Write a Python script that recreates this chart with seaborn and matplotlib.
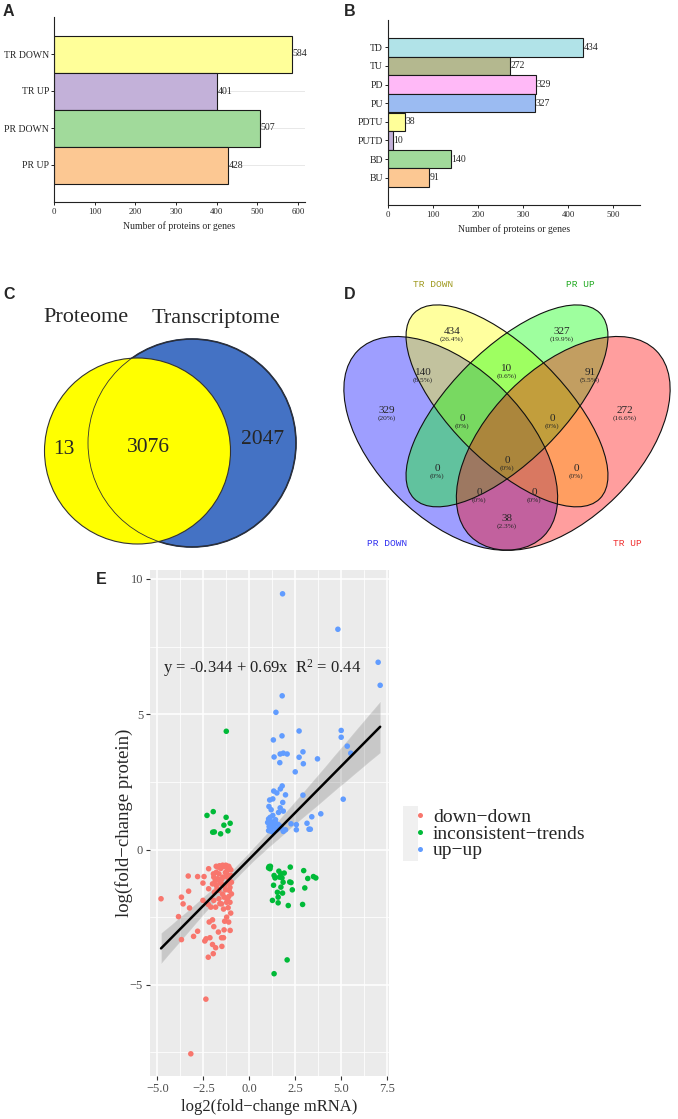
import pandas as pd
import matplotlib.pyplot as plt
from matplotlib.patches import Circle, Ellipse, Rectangle
import seaborn as sns

# ------------------------------------------------------------------
# datos de cada panel
# ------------------------------------------------------------------
# A - recuentos por grupo
a_labels = ["TR DOWN", "TR UP", "PR DOWN", "PR UP"]
a_values = [584, 401, 507, 428]
a_colors = ["#FFFF99", "#C3B1D9", "#A1DA9B", "#FCC893"]

# B - recuentos por combinacion
b_labels = ["TD", "TU", "PD", "PU", "PDTU", "PUTD", "BD", "BU"]
b_values = [434, 272, 329, 327, 38, 10, 140, 91]
b_colors = ["#B1E3E8", "#B4B88F", "#FFB9F7", "#9BBBF2", "#FFFF99", "#C3B1D9", "#A1DA9B", "#FCC893"]

# C - venn de 2 conjuntos (solo proteoma, ambos, solo transcriptoma)
c_sets = ["Proteome", "Transcriptome"]
c_counts = [13, 3076, 2047]

# D - venn de 4 conjuntos
d_sets = ["PR DOWN", "TR DOWN", "PR UP", "TR UP"]
d_set_colors = ["#0000FF", "#FFFF00", "#00FF00", "#FF0000"]
d_label_colors = ["#3030F0", "#A09A20", "#22AA22", "#F03030"]
d_counts = [329, 434, 327, 272, 140, 10, 91, 0, 0, 0, 0, 0, 0, 0, 38]
d_pcts = [20, 26.4, 19.9, 16.6, 8.5, 0.6, 5.5, 0, 0, 0, 0, 0, 0, 0, 2.3]

# E - dispersion mRNA vs proteina
trend_names = ["down\u2212down", "inconsistent\u2212trends", "up\u2212up"]
trend_colors = ["#F8766D", "#00BA38", "#619CFF"]

down_x = [-4.80, -3.85, -3.69, -3.60, -3.32, -3.30, -3.25, -3.69, -3.03, -2.81, -2.81, -2.36, -3.18,
          -2.21, -2.46, -2.52, -2.21, -2.52, -1.79, -1.65, -1.37, -1.20, -1.09, -1.93, -1.72, -1.44,
          -1.23, -1.01, -2.00, -1.79, -1.51, -1.16, -0.97, -1.90, -1.65, -1.29, -1.09, -1.93, -1.65,
          -1.37, -1.12, -0.97, -1.83, -1.51, -1.23, -2.09, -2.23, -1.01, -1.34, -1.23, -1.12, -2.18,
          -2.00, -1.93, -1.68, -1.37, -1.04, -2.35, -2.14, -1.51, -1.40, -2.00, -1.83, -1.49, -2.23,
          -1.96, -2.42,
          -1.55, -1.30, -1.10, -1.85, -1.60, -1.35, -1.05, -1.75, -1.45, -1.20, -1.05, -1.60, -1.40,
          -1.15, -1.70, -1.25, -1.00, -1.15, -1.50, -1.95, -1.80, -1.62, -1.45, -1.28, -1.12]
down_y = [-1.82, -2.48, -1.76, -2.01, -0.98, -1.54, -2.16, -3.33, -3.21, -3.02, -1.00, -5.53, -7.55,
          -0.71, -1.00, -1.24, -1.45, -1.88, -0.84, -0.90, -0.63, -0.78, -0.68, -1.02, -1.08, -1.02,
          -1.00, -0.96, -1.27, -1.33, -1.27, -1.24, -1.21, -1.58, -1.51, -1.49, -1.51, -1.88, -1.82,
          -1.76, -1.74, -1.64, -2.13, -2.01, -1.95, -2.13, -2.03, -2.35, -2.65, -2.50, -2.68, -2.68,
          -2.60, -2.85, -3.05, -2.97, -2.99, -3.30, -3.26, -3.26, -3.26, -3.51, -3.63, -3.58, -3.98,
          -3.85, -3.38,
          -0.70, -0.85, -1.10, -1.15, -1.20, -1.35, -1.40, -1.45, -1.65, -1.85, -1.95, -2.00, -2.20,
          -2.15, -0.65, -0.60, -0.75, -0.95, -1.10, -0.90, -0.62, -0.60, -0.58, -0.58, -0.62]

incons_x = [-1.25, -2.30, -1.96, -1.26, -1.04, -1.38, -1.99, -1.90, -1.56, -1.16,
            1.08, 1.13, 1.35, 1.61, 1.72, 1.90, 2.23, 1.64, 2.96, 3.18, 3.49, 3.62, 1.32, 1.84,
            2.27, 3.02, 1.72, 1.53, 1.81, 2.34, 1.26, 1.57, 1.57, 2.12, 2.90, 2.06, 1.35,
            1.05, 1.15, 1.78, 2.20, 1.40]
incons_y = [4.37, 1.26, 1.40, 1.19, 0.97, 0.90, 0.64, 0.65, 0.58, 0.69,
            -0.63, -0.71, -0.96, -0.80, -0.90, -0.87, -0.65, -1.02, -0.78, -1.07, -1.00, -1.05, -1.32, -1.21,
            -1.22, -1.42, -1.39, -1.58, -1.61, -1.49, -1.88, -1.76, -1.97, -2.07, -2.03, -4.08, -4.59,
            -0.68, -0.62, -1.05, -1.20, -1.05]

up_x = [1.81, 4.82, 7.01, 7.12, 1.79, 1.45, 1.78, 1.31, 2.71, 5.00, 5.00, 5.33, 5.52,
        1.35, 1.68, 1.85, 2.06, 1.66, 2.71, 2.92, 2.94, 3.71, 2.50, 1.79, 1.69, 1.33, 1.50, 1.97,
        2.92, 5.11, 1.28, 1.11, 1.82, 1.07, 1.19, 1.68, 1.85, 1.59, 3.89, 3.40, 1.14, 1.28, 1.05,
        1.43, 1.24, 1.45, 1.59, 2.27, 2.56, 3.14, 1.08, 1.28, 1.73, 2.56, 3.25, 3.32, 1.05, 1.19,
        1.49, 1.85, 1.97, 1.12, 1.35, 1.62, 1.30, 1.00]
up_y = [9.45, 8.14, 6.92, 6.07, 5.68, 5.07, 4.20, 4.05, 4.38, 4.40, 4.15, 3.82, 3.56,
        3.42, 3.53, 3.56, 3.53, 3.21, 3.41, 3.61, 3.17, 3.35, 2.87, 2.35, 2.24, 2.16, 2.09, 2.02,
        2.01, 1.86, 1.87, 1.83, 1.74, 1.59, 1.47, 1.54, 1.42, 1.37, 1.32, 1.21, 1.19, 1.26, 1.13,
        1.10, 1.02, 0.97, 0.92, 0.95, 0.92, 0.97, 0.85, 0.83, 0.85, 0.73, 0.75, 0.75, 0.70, 0.67,
        0.73, 0.67, 0.73, 0.95, 0.88, 0.78, 0.64, 1.00]

equation = "y = -0.344 + 0.69x  R$^{2}$ = 0.44"

# ------------------------------------------------------------------
# estilo general
# ------------------------------------------------------------------
sns.set_style("ticks")
plt.rcParams['font.family'] = ['Liberation Serif', 'DejaVu Serif']
plt.rcParams['mathtext.default'] = 'regular'

W, H = 678, 1119
fig = plt.figure(figsize=(W / 100, H / 100), dpi=100)


def px_axes(l, t, r, b):
    # ejes a partir de coordenadas en pixeles (izq, arriba, der, abajo)
    return fig.add_axes([l / W, 1 - b / H, (r - l) / W, (b - t) / H])


def panel_letter(x, y, s):
    fig.text(x / W, 1 - y / H, s, fontsize=11.5, fontweight='bold',
             family='Liberation Sans', va='top', ha='left')


def bar_panel(ax, labels, values, colors, xmax, ylim, grid):
    sns.barplot(x=values, y=labels, hue=labels, palette=dict(zip(labels, colors)),
                saturation=1, width=1.0, edgecolor='#1A1A1A', linewidth=0.8,
                legend=False, ax=ax)
    for cont in ax.containers:
        ax.bar_label(cont, fontsize=7, padding=0.3)
    ax.set_xlim(0, xmax)
    ax.set_ylim(*ylim)
    ax.set_xticks(range(0, int(xmax // 100) * 100 + 1, 100))
    ax.tick_params(axis='x', labelsize=6.3, length=2.5, width=0.7, pad=1.5, color='#222222')
    ax.tick_params(axis='y', labelsize=7, length=2, width=0.7, pad=1.5, color='#222222')
    for s in ['top', 'right']:
        ax.spines[s].set_visible(False)
    for s in ['left', 'bottom']:
        ax.spines[s].set_color('#222222')
        ax.spines[s].set_linewidth(0.8)
    if grid:
        ax.grid(axis='y', color='#E4E4E4', lw=0.6)
        ax.set_axisbelow(True)
    ax.set_ylabel('')
    ax.set_xlabel('Number of proteins or genes', fontsize=7)
    ax.xaxis.set_label_coords(0.5, -0.105)


# ------------------------------------------------------------------
# A y B - barras horizontales
# ------------------------------------------------------------------
axA = px_axes(54, 17, 305, 202)
bar_panel(axA, a_labels, a_values, a_colors, 617, (4.0, -1.0), True)

axB = px_axes(388, 20, 640, 205)
bar_panel(axB, b_labels, b_values, b_colors, 560, (8.47, -1.47), False)

# ------------------------------------------------------------------
# C - venn de dos conjuntos
# ------------------------------------------------------------------
axC = px_axes(0, 290, 340, 560)
axC.set_xlim(0, 340)
axC.set_ylim(560, 290)
axC.axis('off')
axC.add_patch(Circle((192, 443), 104, fc='#4472C4', ec='#1B2A4A', lw=1.2))
axC.add_patch(Circle((137.5, 451), 93, fc='#FFFF00', ec='#333333', lw=0.8))
axC.add_patch(Circle((192, 443), 104, fill=False, ec='#333333', lw=0.6))
axC.text(86, 318, c_sets[0], fontsize=16, ha='center', va='center')
axC.text(216, 318, c_sets[1], fontsize=16, ha='center', va='center')
for (x, y), n in zip([(64, 450), (148, 448), (263, 440)], c_counts):
    axC.text(x, y, str(n), fontsize=15.5, ha='center', va='center')

# ------------------------------------------------------------------
# D - venn de cuatro conjuntos (elipses)
# ------------------------------------------------------------------
axD = px_axes(340, 270, 678, 560)
axD.set_xlim(340, 678)
axD.set_ylim(560, 270)
axD.axis('off')
k = 375.0
ell = [((507 - 0.15 * k, 305 + 0.369 * k), 0.70 * k, 0.40 * k, 45),
       ((507, 305 + 0.269 * k), 0.70 * k, 0.30 * k, 45),
       ((507, 305 + 0.269 * k), 0.70 * k, 0.30 * k, -45),
       ((507 + 0.15 * k, 305 + 0.369 * k), 0.70 * k, 0.40 * k, -45)]
for (xy, w, h, ang), col in zip(ell, d_set_colors):
    axD.add_patch(Ellipse(xy, w, h, angle=ang, fc=col, alpha=0.38, ec='none'))
for xy, w, h, ang in ell:
    axD.add_patch(Ellipse(xy, w, h, angle=ang, fill=False, ec='#111111', lw=0.8))

region_pos = [(387, 414), (452, 335), (562, 335), (625, 414), (423, 376), (507, 372), (590, 376),
              (462, 422), (552, 422), (437, 472), (507, 464), (576, 472), (479, 496), (534, 496),
              (507, 522)]
for (x, y), n, p in zip(region_pos, d_counts, d_pcts):
    axD.text(x, y - 3.2, str(n), fontsize=8, ha='center', va='center')
    axD.text(x, y + 4.0, f"({p:g}%)", fontsize=5.3, ha='center', va='center')

set_label_pos = [(387, 543), (433, 285), (580, 285), (627, 543)]
for (x, y), name, col in zip(set_label_pos, d_sets, d_label_colors):
    axD.text(x, y, name, fontsize=6.8, color=col, ha='center', va='center',
             family='Liberation Mono')

# ------------------------------------------------------------------
# E - dispersion con recta de regresion
# ------------------------------------------------------------------
df = pd.DataFrame({
    'mrna': down_x + incons_x + up_x,
    'protein': down_y + incons_y + up_y,
    'trend': [trend_names[0]] * len(down_x) + [trend_names[1]] * len(incons_x)
             + [trend_names[2]] * len(up_x),
})

axE = px_axes(150, 570, 389, 1076)
axE.set_facecolor('#EBEBEB')
sns.scatterplot(data=df, x='mrna', y='protein', hue='trend', hue_order=trend_names,
                palette=trend_colors, s=16, linewidth=0, ax=axE, zorder=3)
sns.regplot(data=df, x='mrna', y='protein', scatter=False, color='black', ci=95, seed=7,
            line_kws={'lw': 1.8, 'zorder': 4}, ax=axE)

axE.set_xlim(-5.4, 7.6)
axE.set_ylim(-8.37, 10.33)
axE.set_xticks([-5, -2.5, 0, 2.5, 5, 7.5])
axE.set_xticklabels(['\u22125.0', '\u22122.5', '0.0', '2.5', '5.0', '7.5'])
axE.set_yticks([-5, 0, 5, 10])
axE.set_yticklabels(['\u22125', '0', '5', '10'])
axE.set_xticks([-3.75, -1.25, 1.25, 3.75, 6.25], minor=True)
axE.set_yticks([-7.5, -2.5, 2.5, 7.5], minor=True)
axE.grid(which='major', color='white', lw=1.1)
axE.grid(which='minor', color='white', lw=0.55)
axE.set_axisbelow(True)
for s in axE.spines.values():
    s.set_visible(False)
axE.tick_params(which='major', length=3, width=0.8, color='#333333',
                labelcolor='#4D4D4D', labelsize=9, pad=2)
axE.tick_params(which='minor', length=0)
axE.set_xlabel('log2(fold\u2212change mRNA)', fontsize=12)
axE.set_ylabel('log(fold\u2212change protein)', fontsize=13.5)
axE.xaxis.set_label_coords(0.5, -0.045)
axE.yaxis.set_label_coords(-0.07, 0.5)
axE.text(-4.71, 6.72, equation, fontsize=12, va='center', ha='left', color='#222222')

handles, labels = axE.get_legend_handles_labels()
axE.get_legend().remove()
fig.patches.append(Rectangle((403 / W, 1 - 861 / H), 15 / W, 55 / H, transform=fig.transFigure,
                             fc='#F0F0F0', ec='none', zorder=0))
fig.legend(handles, labels, loc='center left', bbox_to_anchor=(402 / W, 1 - 834 / H),
           frameon=False, fontsize=14, handletextpad=0.1, labelspacing=-0.05,
           borderaxespad=0, handlelength=1.1, markerscale=0.9)

# letras de panel
panel_letter(3, 4, 'A')
panel_letter(344, 4, 'B')
panel_letter(3, 287, 'C')
panel_letter(344, 287, 'D')
panel_letter(96, 572, 'E')

plt.savefig("out.png", dpi=100)
